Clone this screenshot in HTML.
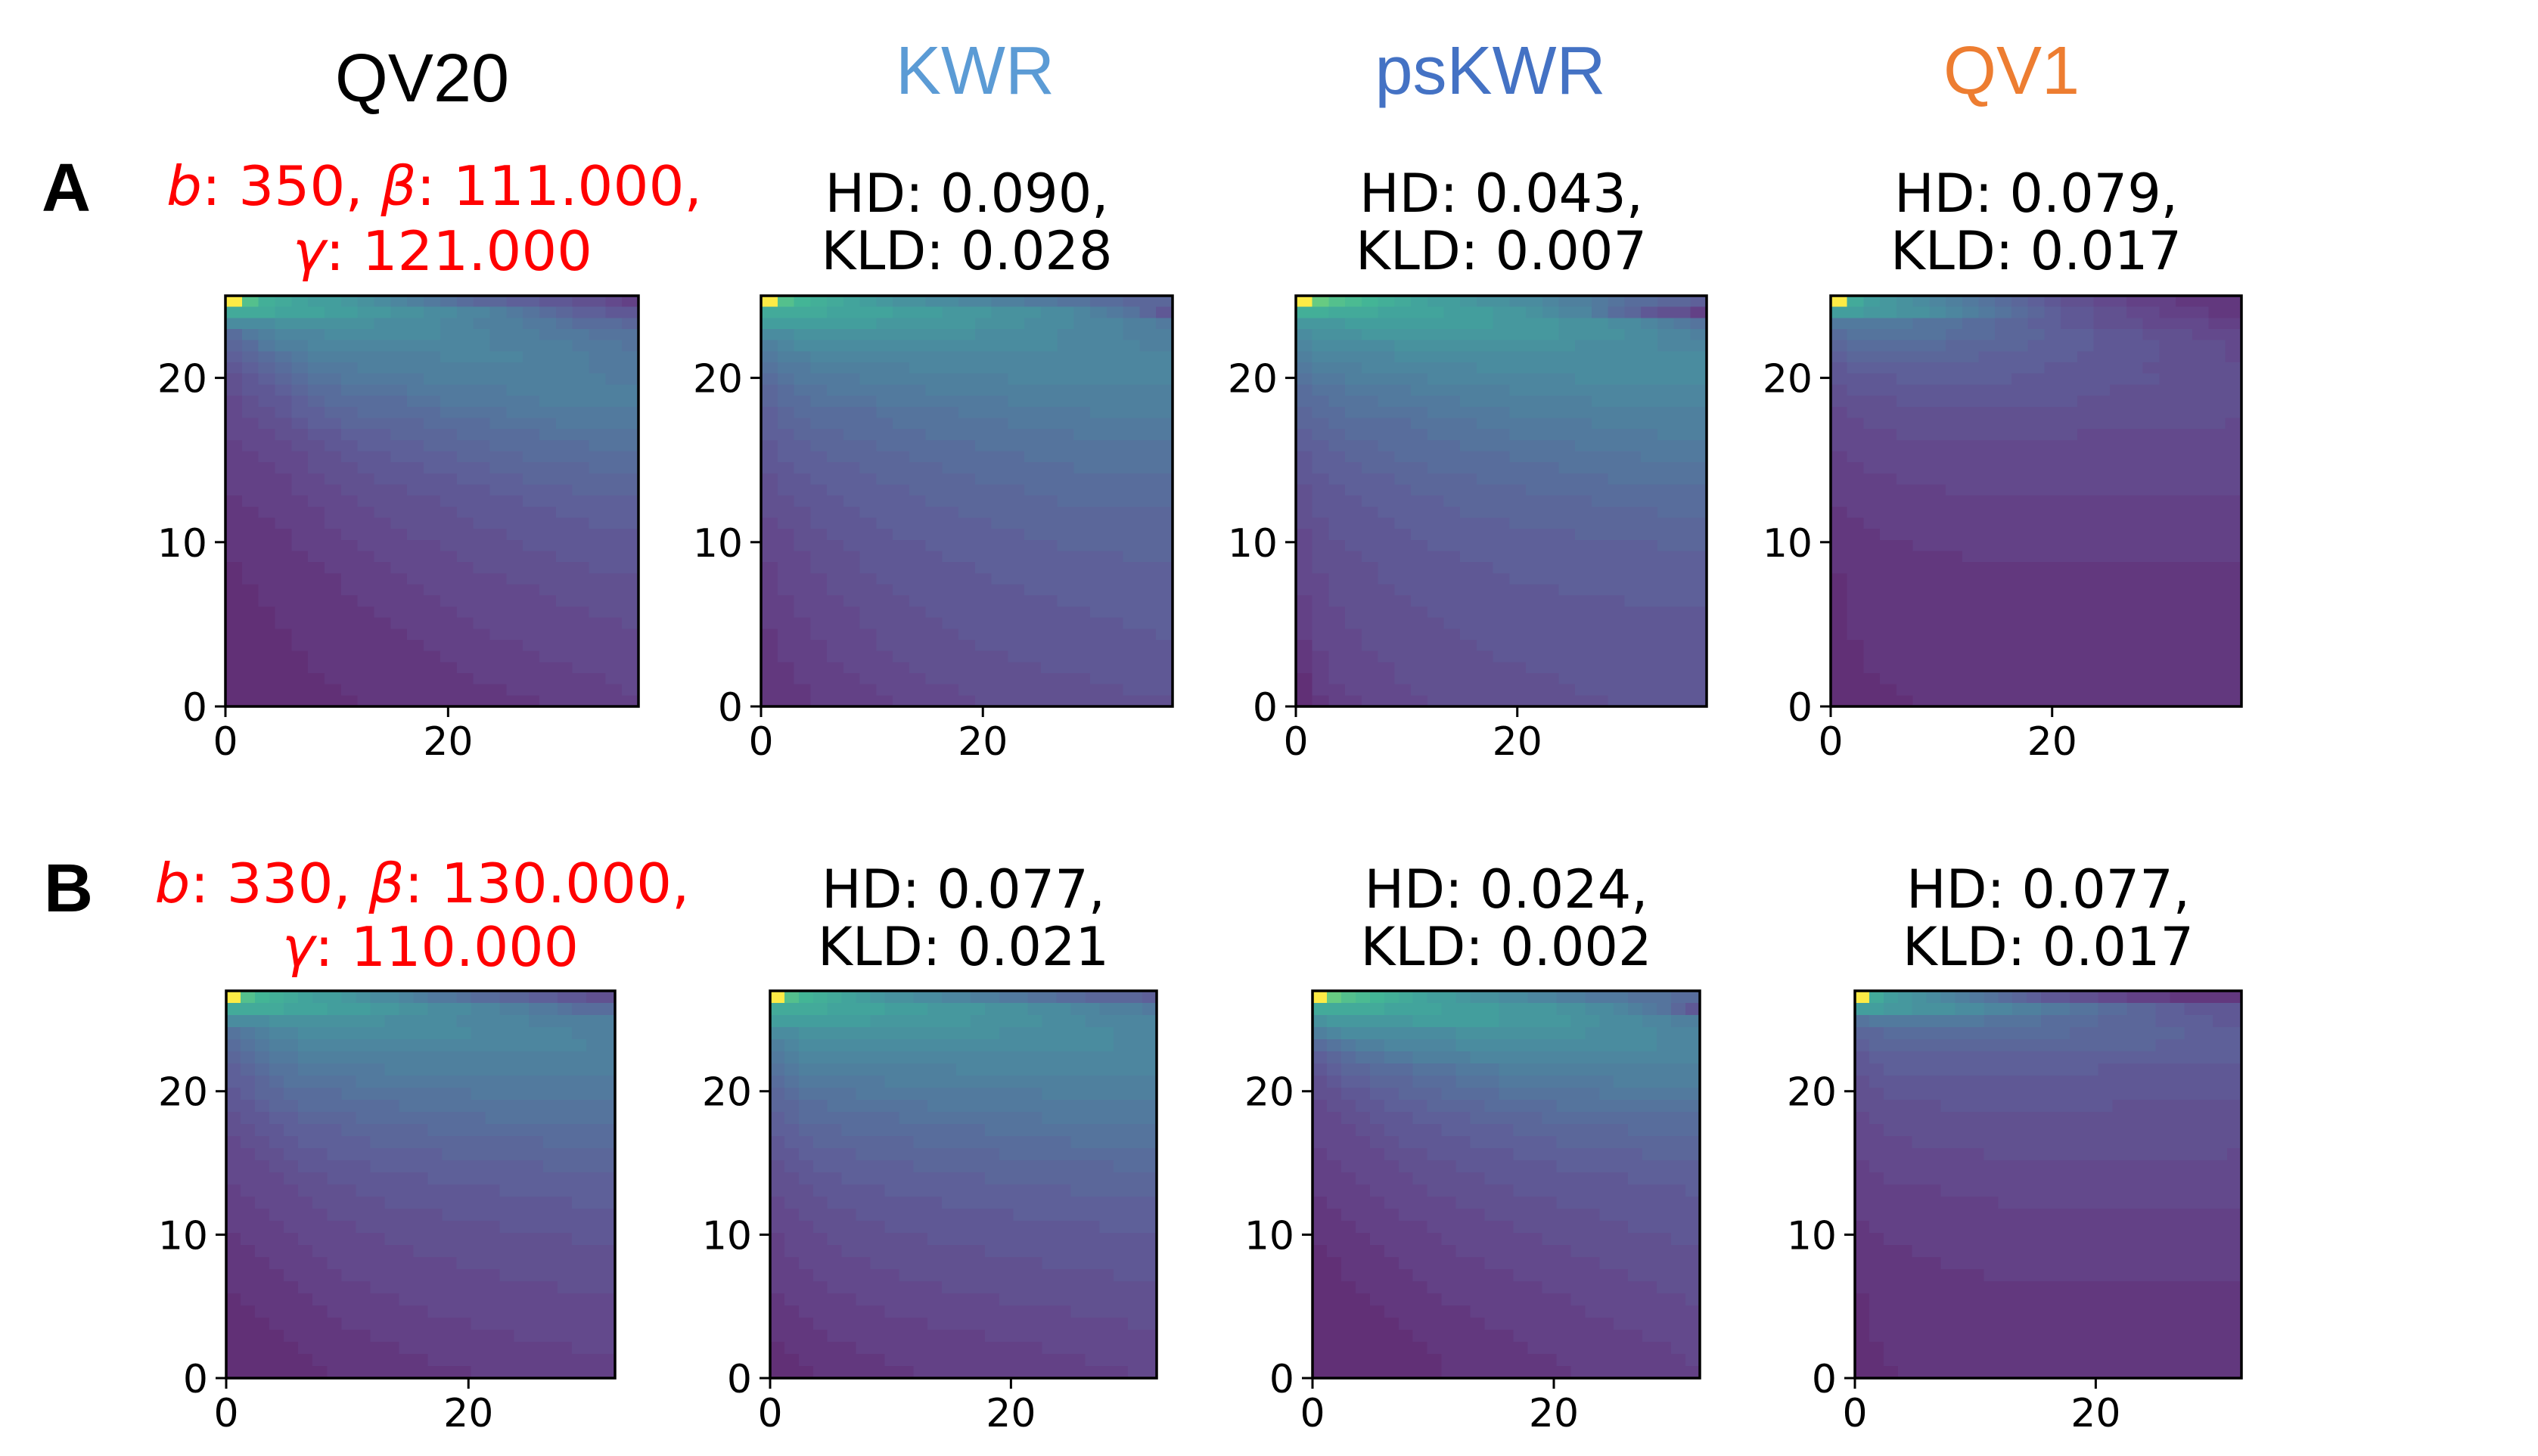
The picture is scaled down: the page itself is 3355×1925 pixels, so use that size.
<!DOCTYPE html>
<html><head><meta charset="utf-8">
<style>
html,body{margin:0;padding:0;background:#fff;}
svg{display:block;}
</style></head>
<body>
<svg id="fig" width="3355" height="1925" viewBox="0 0 3355 1925" xmlns="http://www.w3.org/2000/svg">
<rect x="0" y="0" width="3355" height="1925" fill="#fff"/>
<g font-family="'Liberation Sans', sans-serif" font-size="90" text-anchor="middle">
<text x="558" y="134" fill="#000">QV20</text>
<text x="1289" y="124" fill="#5b9bd5">KWR</text>
<text x="1970" y="124" fill="#4472c4">psKWR</text>
<text x="2659" y="124" fill="#ed7d31">QV1</text>
</g>
<g font-family="'Liberation Sans', sans-serif" font-size="90" font-weight="bold">
<text x="55" y="279">A</text>
<text x="58" y="1205">B</text>
</g>
<g font-family="'DejaVu Sans', sans-serif" font-size="72" fill="#ff0000" text-anchor="middle">
<text x="574" y="271" textLength="708" lengthAdjust="spacingAndGlyphs"><tspan font-style="italic">b</tspan>: 350, <tspan font-style="italic">β</tspan>: 111.000,</text>
<text x="585" y="357" textLength="396" lengthAdjust="spacingAndGlyphs"><tspan font-style="italic">γ</tspan>: 121.000</text>
<text x="558" y="1193" textLength="707" lengthAdjust="spacingAndGlyphs"><tspan font-style="italic">b</tspan>: 330, <tspan font-style="italic">β</tspan>: 130.000,</text>
<text x="569" y="1277" textLength="392" lengthAdjust="spacingAndGlyphs"><tspan font-style="italic">γ</tspan>: 110.000</text>
</g>
<g id="panels"></g>
</svg>
<script>
// value levels: index in levelChars / 35 -> 0..1
const levelChars = "0123456789abcdefghijklmnopqrstuvwxyz";

// Row A: 37 rows x 25 columns (top row first)
const gridA1 = [
"znkjihhgfedcba98877665543",
"jjjiiihhggffeeddcba987766",
"eeeffffffeeeeddcccbba9998",
"9bcdddeeeeeeedddcccbbbaaa",
"89bccdddddddddddcccccbbba",
"789abccccccccdddddccccbbb",
"6789abbbccccccccccccccbbb",
"56789aabbbbbcccccccccccbb",
"5667899aaaabbbbbbcccccccc",
"45667899999aabbbbbbcccccc",
"4556778899999aaaabbbbbbbb",
"4455677888889999aaaabbbbb",
"4445566777888899999aaaaaa",
"3444556677778888999999aaa",
"3344455666777788889999999",
"3334455566667777888888999",
"3333445556666677778888888",
"3333444555566666777778888",
"2333344455555666667777777",
"2233334445555566666677777",
"2223334444555556666666777",
"2222333444455555566666666",
"2222333344444555556666666",
"2222233334444455555566666",
"1222223333444445555555666",
"1222222333344444455555555",
"1122222333334444444555555",
"1122222233333444444455555",
"1112222223333344444444555",
"1112222222333334444444445",
"1111222222233333444444444",
"1111222222223333334444444",
"1111122222222333333444444",
"1111122222222233333334444",
"1111112222222223333333344",
"1111111222222222233333334",
"1111111122222222222333333"];

const gridA2 = [
"znlkjihgffeeddccbbaa99888",
"jjjjiiiihhhgggfffeedcba86",
"hhhhhhhggggggfffeeedddccb",
"eefffffffffffeeeeeddddccc",
"cdeeeeeeeeeeeeeeeedddddcc",
"bccdddddddddddddddddddddd",
"abbccccccdddddddddddddddd",
"9abbbbcccccccccdddddddddd",
"89aabbbbbbccccccccccccccc",
"899aaaabbbbbbbbcccccccccc",
"7899999aaaaabbbbbbbbccccc",
"78899999aaaaaaabbbbbbbbbb",
"7788899999aaaaaaaaabbbbbb",
"6778888999999aaaaaaaaaaaa",
"6777888889999999aaaaaaaaa",
"6677778888899999999aaaaaa",
"5667777888888999999999999",
"5666777778888888999999999",
"5566677777888888889999999",
"5556667777778888888888888",
"4556666777777788888888888",
"4455666677777777888888888",
"4455566666777777778888888",
"4445556666677777777777888",
"3445556666666777777777777",
"3444555666666677777777777",
"3444555566666666777777777",
"3344455556666666667777777",
"3344445555666666666677777",
"3334445555566666666666777",
"2334444555556666666666667",
"2333444555555666666666666",
"2333444455555556666666666",
"2233344445555555566666666",
"2233334444555555555566666",
"2223333444445555555555666",
"2223333344444555555555555"];

const gridA3 = [
"zpnmlkjihhgffeedccba99887",
"kkjjjiiiihhhggfeddb986553",
"ggghhhhhhhhhggggfffeedcba",
"efffggggggggggggffffeeddc",
"deeeeefffffffffffeeeeeddd",
"cdddddeeeeeeeeeeeeeeeeeee",
"bcccdddddddeeeeeeeeeeeeee",
"abbcccccdddddddddeeeeeeee",
"9aabbbbccccccdddddddddddd",
"99aaabbbbbccccccccddddddd",
"899aaaaabbbbbcccccccccccc",
"8899999aaaabbbbbbbccccccc",
"78899999aaaaabbbbbbbbbccc",
"7788899999aaaaaaabbbbbbbb",
"6778889999999aaaaaaaabbbb",
"6777888899999999aaaaaaaaa",
"6677778888899999999aaaaaa",
"5667777888888899999999999",
"5666777778888888889999999",
"5666677777888888888888999",
"5566667777777888888888888",
"4566666777777777788888888",
"4556666677777777777777888",
"4555666666777777777777777",
"4555566666667777777777777",
"4455566666666777777777777",
"4455556666666666777777777",
"3455555666666666666677777",
"3445555566666666666666666",
"3445555556666666666666666",
"3444555555666666666666666",
"2444555555566666666666666",
"2344455555556666666666666",
"2344445555555566666666666",
"1344445555555555666666666",
"1334444555555555566666666",
"1233444455555555555666666"];

const gridA4 = [
"zjhgfedcba987655443332222",
"hhggffedcba98766554433322",
"bbbbbaaa99887766555444433",
"9aaaaaa999888777666555444",
"8999999888887777666655554",
"7888888887777776666655554",
"6777777777777666666555555",
"6666777777766666666655555",
"5666666666666666655555555",
"5555666666666665555555555",
"4555555555555555555555555",
"4455555555555555555555554",
"4444555555555554444444444",
"4444444444444444444444444",
"3444444444444444444444444",
"3344444444444444444444444",
"3333444444444444444444444",
"3333333444444444444444444",
"3333333333333333333333333",
"2333333333333333333333333",
"2233333333333333333333333",
"2223333333333333333333333",
"2222233333333333333333333",
"2222222233333333333333333",
"2222222222222222222222222",
"1222222222222222222222222",
"1222222222222222222222222",
"1222222222222222222222222",
"1222222222222222222222222",
"1222222222222222222222222",
"1222222222222222222222222",
"1122222222222222222222222",
"1122222222222222222222222",
"1122222222222222222222222",
"1112222222222222222222222",
"1111222222222222222222222",
"1111122222222222222222222"];

// Row B: 32 rows x 27 columns (top row first)
const gridB1 = [
"znlkjihhgfeedcbba9988776655",
"jjjjiiihhhggffeeeddccbba999",
"eeeffffffffeeeeedddddcccccc",
"abcddeeeeeeeeeeeedddddddccc",
"9abccddddddddddddddddddddcc",
"89abbcccccccccccccccccccccc",
"789aabbbbbbcccccccccccccccc",
"7789aaaaabbbbbbbbbbbbbbbbbb",
"67889999aaaaaaaaabbbbbbbbbb",
"667889999999aaaaaaaaaaaaaaa",
"566778888999999999aaaaaaaaa",
"556677778888889999999999999",
"455667777788888888888899999",
"445566677777777888888888888",
"444556666677777777777788888",
"444455566666667777777777777",
"344445555666666666677777777",
"334444555556666666666666777",
"333444455555555666666666666",
"333344444555555555566666666",
"233334444445555555555555666",
"223333444444455555555555555",
"222333344444444455555555555",
"222233334444444444455555555",
"222223333344444444444445555",
"122222333333444444444444444",
"112222233333334444444444444",
"111222223333333334444444444",
"111122222233333333334444444",
"111112222222333333333333444",
"111111222222223333333333333",
"111111122222222223333333333"];

const gridB2 = [
"znlkjihgffeeddccbbaa9988887",
"jjjjiiiihhhggggfffeeeddcccb",
"hhhhhhhgggggggfffffeeeddddd",
"eeffffffffffffffeeeeeeeeddd",
"cdeeeeeeeeeeeeeeeeeeeeeeddd",
"bcddddddddddddddddddddddddd",
"abcccccccccccdddddddddddddd",
"9abbbbbbccccccccccccccccccc",
"89aaaabbbbbbbbbbbbbcccccccc",
"8899aaaaaaabbbbbbbbbbbbbbbb",
"789999999aaaaaaaaaabbbbbbbb",
"778889999999999aaaaaaaaaaaa",
"677888888899999999999aaaaaa",
"667777888888888899999999999",
"566777777788888888888888999",
"556667777777777888888888888",
"555666667777777777777888888",
"455566666666777777777777777",
"445555666666666667777777777",
"444555556666666666666667777",
"344455555556666666666666666",
"344445555555555666666666666",
"334444455555555555566666666",
"333444444555555555555555666",
"333344444444555555555555555",
"233333444444444455555555555",
"223333334444444444444555555",
"222333333334444444444444455",
"222233333333333444444444444",
"122222333333333333344444444",
"112222223333333333333344444",
"111222222233333333333333344"];

const gridB3 = [
"zpnmlkjihhgffeeddccbbbaaa99",
"jjjjjiiiihhhhggggffeedcba86",
"fgggggghhhhhhgggggffeeeddcc",
"cdeeeeeeeefffffffffeeeeeddd",
"9abccdddddeeeeeeeeeeeeeeddd",
"789aabbccccdddddddddddddddd",
"6788999aaabbbcccccccccccccc",
"5677888999aaabbbbbbbbcccccc",
"5566778889999aaaaaaabbbbbbb",
"45566777888899999aaaaaaaaaa",
"445566677778888899999999999",
"444556666777778888888899999",
"444455666667777778888888888",
"344445556666667777777778888",
"334444555566666667777777777",
"333444455555666666666677777",
"333344445555556666666666667",
"233334444455555556666666666",
"223333444444555555556666666",
"222333334444445555555566666",
"222233333444444455555555566",
"122223333344444444555555555",
"112222333333444444445555555",
"112222233333334444444455555",
"111222223333333344444444555",
"111122222333333333444444445",
"111112222223333333344444444",
"111111222222333333333444444",
"111111122222223333333334444",
"111111112222222333333333344",
"111111111222222223333333334",
"111111111222222222333333333"];

const gridB4 = [
"zjhgfedcba98766554433322222",
"hhggfffeeddccbbaa9988776666",
"abbbbbbbbaaaa99998888777766",
"889999999999999888888887777",
"788888888888888888888777777",
"677777777777777777777777777",
"667777777777777776666666666",
"566666666666666666666666666",
"556666666666666666666666666",
"555555666666666666555555555",
"455555555555555555555555555",
"445555555555555555555555555",
"444455555555555555555555555",
"444444444555555555555555554",
"344444444444444444444444444",
"334444444444444444444444444",
"333333444444444444444444444",
"333333333344444444444444444",
"333333333333333333333333333",
"233333333333333333333333333",
"223333333333333333333333333",
"222233333333333333333333333",
"222222333333333333333333333",
"222222222333333333333333333",
"222222222222222222222222222",
"122222222222222222222222222",
"122222222222222222222222222",
"122222222222222222222222222",
"122222222222222222222222222",
"112222222222222222222222222",
"112222222222222222222222222",
"111222222222222222222222222"];

const panelTitlesA = [null, ["HD: 0.090,", "KLD: 0.028"], ["HD: 0.043,", "KLD: 0.007"], ["HD: 0.079,", "KLD: 0.017"]];
const panelTitlesB = [null, ["HD: 0.077,", "KLD: 0.021"], ["HD: 0.024,", "KLD: 0.002"], ["HD: 0.077,", "KLD: 0.017"]];
const xTicks = [0, 20];
const yTicks = [0, 10, 20];
const methodNames = ["qv20", "kwr", "pskwr", "qv1"];

// viridis colormap stops (colormap definition, not data)
const viridis = [[68,1,84],[72,36,117],[65,68,135],[53,95,141],[42,120,142],[33,145,140],[34,168,132],[68,191,112],[122,209,81],[189,223,38],[253,231,37]];
function cmap(v){
  v=Math.max(0,Math.min(1,v));
  const p=v*10, i=Math.min(9,Math.floor(p)), f=p-i;
  const a=viridis[i], b=viridis[i+1];
  const c=[0,1,2].map(k=>a[k]+(b[k]-a[k])*f);
  const al=0.85;
  return "rgb("+c.map(x=>Math.round(x*al+255*(1-al))).join(",")+")";
}

const NS="http://www.w3.org/2000/svg";
const root=document.getElementById("panels");
function mk(tag, attrs, parent){
  const e=document.createElementNS(NS,tag);
  for(const k in attrs) e.setAttribute(k,attrs[k]);
  (parent||root).appendChild(e);
  return e;
}

const layouts = [
  {row:"a", grids:[gridA1,gridA2,gridA3,gridA4], cols:25, rows:37, xMax:37.1, yMax:25, top:391, bottom:934,
   xs:[[298,844],[1006,1550],[1713,2256],[2420,2963]], titles:panelTitlesA, ty:[280,356]},
  {row:"b", grids:[gridB1,gridB2,gridB3,gridB4], cols:27, rows:32, xMax:32.1, yMax:27, top:1310, bottom:1822,
   xs:[[299,813],[1018,1529],[1735,2247],[2452,2963]], titles:panelTitlesB, ty:[1200,1276]}
];

layouts.forEach(L=>{
  L.grids.forEach((grid,pi)=>{
    const [x0,x1]=L.xs[pi];
    const y0=L.top, y1=L.bottom;
    const g=mk("g",{});
    
    
    const colX=c=>x0+(x1-x0)*c/L.cols;
    const rowY=r=>y0+(y1-y0)*r/L.rows;
    const xScale=v=>x0+(x1-x0)*v/L.xMax;
    const yScale=v=>y1-(y1-y0)*v/L.yMax;
    const cw=(x1-x0)/L.cols, ch=(y1-y0)/L.rows;
    for(let r=0;r<L.rows;r++){
      const s=grid[Math.min(r,grid.length-1)];
      for(let c=0;c<L.cols;c++){
        const chr=s[Math.min(c,s.length-1)];
        const v=levelChars.indexOf(chr)/35;
        const rect=mk("rect",{x:colX(c).toFixed(2),y:rowY(r).toFixed(2),width:(cw+0.6).toFixed(2),height:(ch+0.6).toFixed(2),fill:cmap(v),"shape-rendering":"crispEdges"},g);
        
        
      }
    }
    const fr=mk("rect",{x:x0,y:y0,width:x1-x0,height:y1-y0,fill:"none",stroke:"#000","stroke-width":3.5},g);
    
    
    yTicks.forEach(t=>{
      const y=yScale(t);
      const tk=mk("line",{x1:x0-14,x2:x0,y1:y,y2:y,stroke:"#000","stroke-width":3},g);
      
      
      const tl=mk("text",{x:x0-24,y:y+19,"text-anchor":"end","font-family":"'DejaVu Sans', sans-serif","font-size":52,fill:"#000"},g);
      
      
      tl.textContent=t;
    });
    xTicks.forEach(t=>{
      const x=xScale(t);
      const tk=mk("line",{x1:x,x2:x,y1:y1,y2:y1+14,stroke:"#000","stroke-width":3},g);
      
      
      const tl=mk("text",{x:x,y:y1+64,"text-anchor":"middle","font-family":"'DejaVu Sans', sans-serif","font-size":52,fill:"#000"},g);
      
      
      tl.textContent=t;
    });
    const tt=L.titles[pi];
    if(tt){
      tt.forEach((line,li)=>{
        const te=mk("text",{x:(x0+x1)/2,y:L.ty[li],"text-anchor":"middle","font-family":"'DejaVu Sans', sans-serif","font-size":70,fill:"#000"},g);
        
        
        te.textContent=line;
      });
    }
  });
});
</script>
</body></html>
